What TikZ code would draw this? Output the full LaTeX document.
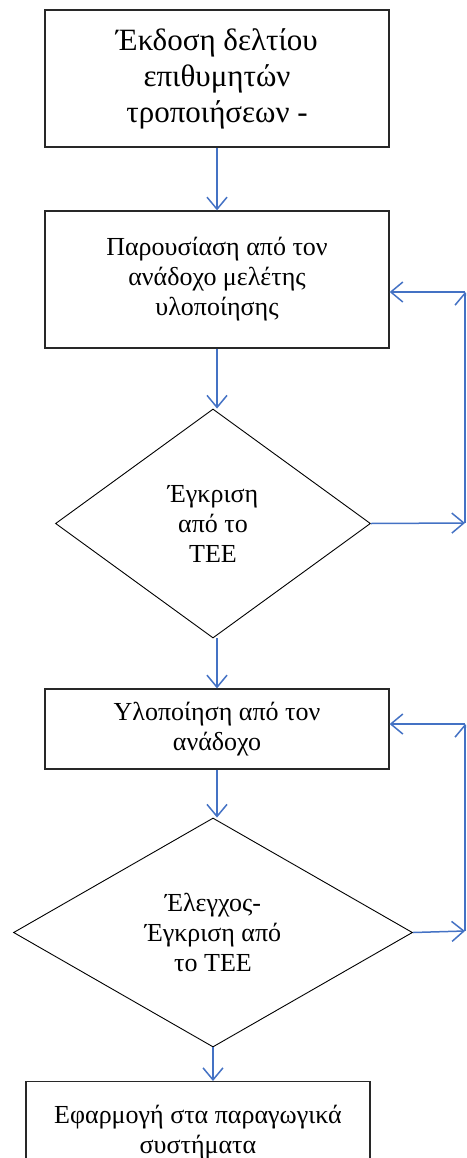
\documentclass[tikz,border=0pt]{standalone}
\usepackage{fontspec}
\setmainfont{Liberation Serif}
\usetikzlibrary{shapes.geometric,arrows.meta}
\definecolor{flowblue}{RGB}{68,114,196}
\definecolor{edgegray}{RGB}{40,40,40}
\tikzset{
  boxnode/.style={draw=edgegray,line width=1.3pt,rectangle,align=center,inner sep=0pt,minimum width=344pt},
  decnode/.style={draw=black,line width=0.9pt,diamond,align=center,inner sep=0pt},
  flow/.style={draw=flowblue,line width=1.5pt,-{Straight Barb[length=12pt,width=20pt,line width=1.5pt]}},
  bigtext/.style={font=\fontsize{31}{36}\selectfont},
  normtext/.style={font=\fontsize{26}{30}\selectfont}
}
\begin{document}
\begin{tikzpicture}[x=1pt,y=-1pt]
\useasboundingbox (0,0) rectangle (466,1158);
\clip (0,0) rectangle (466,1158);
\node[boxnode,bigtext,minimum height=137pt] (b1) at (217,78.5) {Έκδοση δελτίου\\επιθυμητών\\τροποιήσεων -};
\node[boxnode,normtext,minimum height=137pt] (b2) at (217,279.5) {Παρουσίαση από τον\\ανάδοχο μελέτης\\υλοποίησης};
\node[decnode,normtext,minimum width=315pt,minimum height=229pt] (d1) at (213,523.5) {Έγκριση\\από το\\ΤΕΕ};
\node[boxnode,normtext,minimum height=80pt] (b3) at (217,729) {Υλοποίηση από τον\\ανάδοχο};
\node[decnode,normtext,minimum width=399pt,minimum height=229pt] (d2) at (213,932.5) {Έλεγχος-\\Έγκριση από\\το ΤΕΕ};
\node[boxnode,normtext,minimum height=100pt,anchor=north] (b4) at (198,1081) {Εφαρμογή στα παραγωγικά\\συστήματα};
% main flow
\draw[flow] (b1.south) -- (b2.north);
\draw[flow] (b2.south) -- (b2.south |- d1.north);
\draw[flow] (b3.north |- d1.south) -- (b3.north);
\draw[flow] (b3.south) -- (b3.south |- d2.north);
\draw[flow] (d2.south) -- (b4.north -| d2.south);
% feedback loop 1
\coordinate (f1a) at (465,523);
\coordinate (f1b) at (465,292);
\coordinate (f1c) at (b2.east |- f1b);
\draw[flow] (d1.east) -- (f1a);
\draw[flow] (f1a) -- (f1b);
\draw[flow] (f1b) -- (f1c);
% feedback loop 2
\coordinate (f2a) at (465,931);
\coordinate (f2b) at (465,724);
\coordinate (f2c) at (b3.east |- f2b);
\draw[flow] (d2.east) -- (f2a);
\draw[flow] (f2a) -- (f2b);
\draw[flow] (f2b) -- (f2c);
\end{tikzpicture}
\end{document}
